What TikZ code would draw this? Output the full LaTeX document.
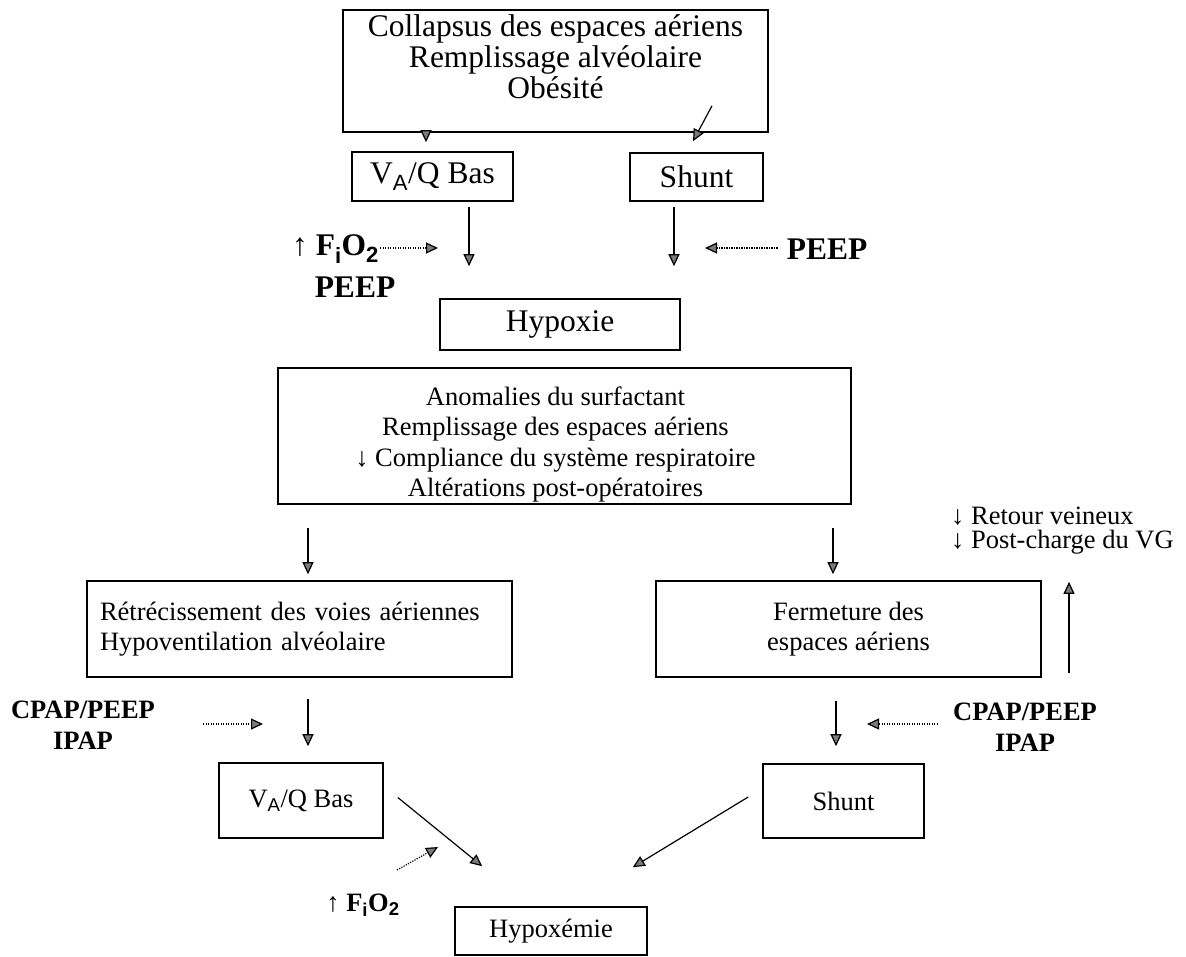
\documentclass[tikz,border=0pt]{standalone}
\usepackage{fontspec}
\setmainfont{Liberation Serif}
\newfontfamily\sansfont{Liberation Sans}
\usetikzlibrary{arrows.meta}
\definecolor{Tete}{HTML}{7A7A7A}
\newcommand{\VA}{V\textsubscript{\sansfont A}}
\newcommand{\FiO}{F\textsubscript{\sansfont i}O\textsubscript{\sansfont 2}}

\begin{document}
\begin{tikzpicture}[x=1pt, y=-1pt,
    boite/.style={draw=black, line width=1.6pt, inner sep=4pt, align=center},
    grand/.style={font=\fontsize{31.5}{31}\selectfont},
    moyen/.style={font=\fontsize{26.5}{30.5}\selectfont},
    grasgrand/.style={inner sep=0pt, align=center, font=\fontsize{31.5}{31}\selectfont\bfseries},
    gras/.style={inner sep=0pt, align=center, font=\fontsize{26.5}{30.5}\selectfont\bfseries},
    fleche/.style={-{Triangle[length=12pt,width=11pt,fill=Tete]}, line width=1.2pt},
    pointille/.style={fleche, dash pattern=on 1.2pt off 1.3pt}
  ]
  \useasboundingbox (0,0) rectangle (1186,956);

  % partie haute
  \node[boite, minimum width=425pt, minimum height=122pt] (causes) at (555.5,71) {};
  \node[grand, align=center, inner sep=0pt, anchor=north] (causestexte) at ([yshift=-5pt]causes.north)
    {Collapsus des espaces aériens\\Remplissage alvéolaire\\Obésité};
  \node[boite, grand, minimum width=161pt, minimum height=49pt] (vaq1) at (432.5,176.5) {\VA/Q Bas};
  \node[boite, grand, minimum width=133pt, minimum height=48pt] (shunt1) at (696.5,177) {Shunt};
  \node[boite, grand, minimum width=240pt, minimum height=51pt] (hypoxie) at (560,324.5) {Hypoxie};

  \node[grasgrand, anchor=west] (fio2h) at (292,249) {\textmd{↑} \FiO};
  \node[grasgrand] (peeph) at (355,287) {PEEP};
  \node[grasgrand] (peepd) at (827,249) {PEEP};
  \coordinate (pfio2h) at (438,248);
  \coordinate (ppeepd) at (705,248);

  \draw[fleche, shorten >=9pt] (causes.south -| 426,0) -- (vaq1.north -| 426,0);
  \draw[fleche] ([xshift=156.5pt,yshift=27pt]causes.south) -- ([xshift=-3.5pt,yshift=11pt]shunt1.north);
  \draw[fleche, shorten <=5pt, shorten >=32pt] (vaq1.south -| 469,0) -- (hypoxie.north -| 469,0);
  \draw[fleche, shorten <=5pt, shorten >=32pt] (shunt1.south -| 674,0) -- (hypoxie.north -| 674,0);
  \draw[pointille, shorten <=1pt] (fio2h.east |- pfio2h) -- (pfio2h);
  \draw[pointille, shorten <=9pt] (peepd.west |- ppeepd) -- (ppeepd);

  % partie basse
  \node[boite, minimum width=573pt, minimum height=136pt] (milieu) at (564.5,436) {};
  \node[moyen, align=center, inner sep=0pt, anchor=south] (milieutexte) at ([xshift=-9pt,yshift=2pt]milieu.south)
    {Anomalies du surfactant\\Remplissage des espaces aériens\\↓ Compliance du système respiratoire\\Altérations post-opératoires};
  \node[boite, moyen, align=left, text width=399pt, minimum width=425pt, minimum height=96pt] (gauche) at (299.5,629)
    {Rétrécissement des voies aériennes\\Hypoventilation alvéolaire};
  \node[boite, moyen, minimum width=385pt, minimum height=96pt] (droite) at (848.5,629) {Fermeture des\\espaces aériens};
  \node[boite, moyen, minimum width=164pt, minimum height=75pt] (vaq2) at (301,800.5) {\VA/Q Bas};
  \node[boite, moyen, minimum width=161pt, minimum height=74pt] (shunt2) at (843.5,801) {Shunt};
  \node[boite, moyen, minimum width=192pt, minimum height=48pt] (hypoxemie) at (551,931) {Hypoxémie};

  \node[inner sep=0pt, align=left, anchor=west, font=\fontsize{26.5}{24}\selectfont] (retour) at (951,531)
    {↓ Retour veineux\\↓ Post-charge du VG};
  \node[gras] (cpapg) at (83,725) {CPAP/PEEP\\IPAP};
  \node[gras] (cpapd) at (1025,727) {CPAP/PEEP\\IPAP};
  \node[gras] (fio2b) at (363,905) {\textmd{↑} \FiO};
  \coordinate (pcpapg) at (263,724);
  \coordinate (pcpapd) at (867,724);
  \coordinate (pfio2b) at (438,847);

  \draw[fleche, shorten <=23pt, shorten >=6pt] (milieu.south -| 308,0) -- (gauche.north -| 308,0);
  \draw[fleche, shorten <=23pt, shorten >=6pt] (milieu.south -| 833,0) -- (droite.north -| 833,0);
  \draw[fleche, shorten <=5pt, shorten >=27pt] (droite.south -| 1069,0) -- (retour.south -| 1069,0);
  \draw[fleche, shorten <=21pt, shorten >=16pt] (gauche.south -| 308,0) -- (vaq2.north -| 308,0);
  \draw[fleche, shorten <=23pt, shorten >=17pt] (droite.south -| 836,0) -- (shunt2.north -| 836,0);
  \draw[pointille, shorten <=48pt] (cpapg.east |- pcpapg) -- (pcpapg);
  \draw[pointille, shorten <=15pt] (cpapd.west |- pcpapd) -- (pcpapd);
  \draw[fleche] ([xshift=14pt,yshift=3pt]vaq2.east) -- ([xshift=28pt,yshift=40pt]hypoxemie.north west);
  \draw[fleche] ([xshift=-14pt,yshift=4pt]shunt2.west) -- ([xshift=-15pt,yshift=39pt]hypoxemie.north east);
  \draw[pointille] ([xshift=34pt,yshift=35pt]fio2b.center) -- (pfio2b);
\end{tikzpicture}
\end{document}
